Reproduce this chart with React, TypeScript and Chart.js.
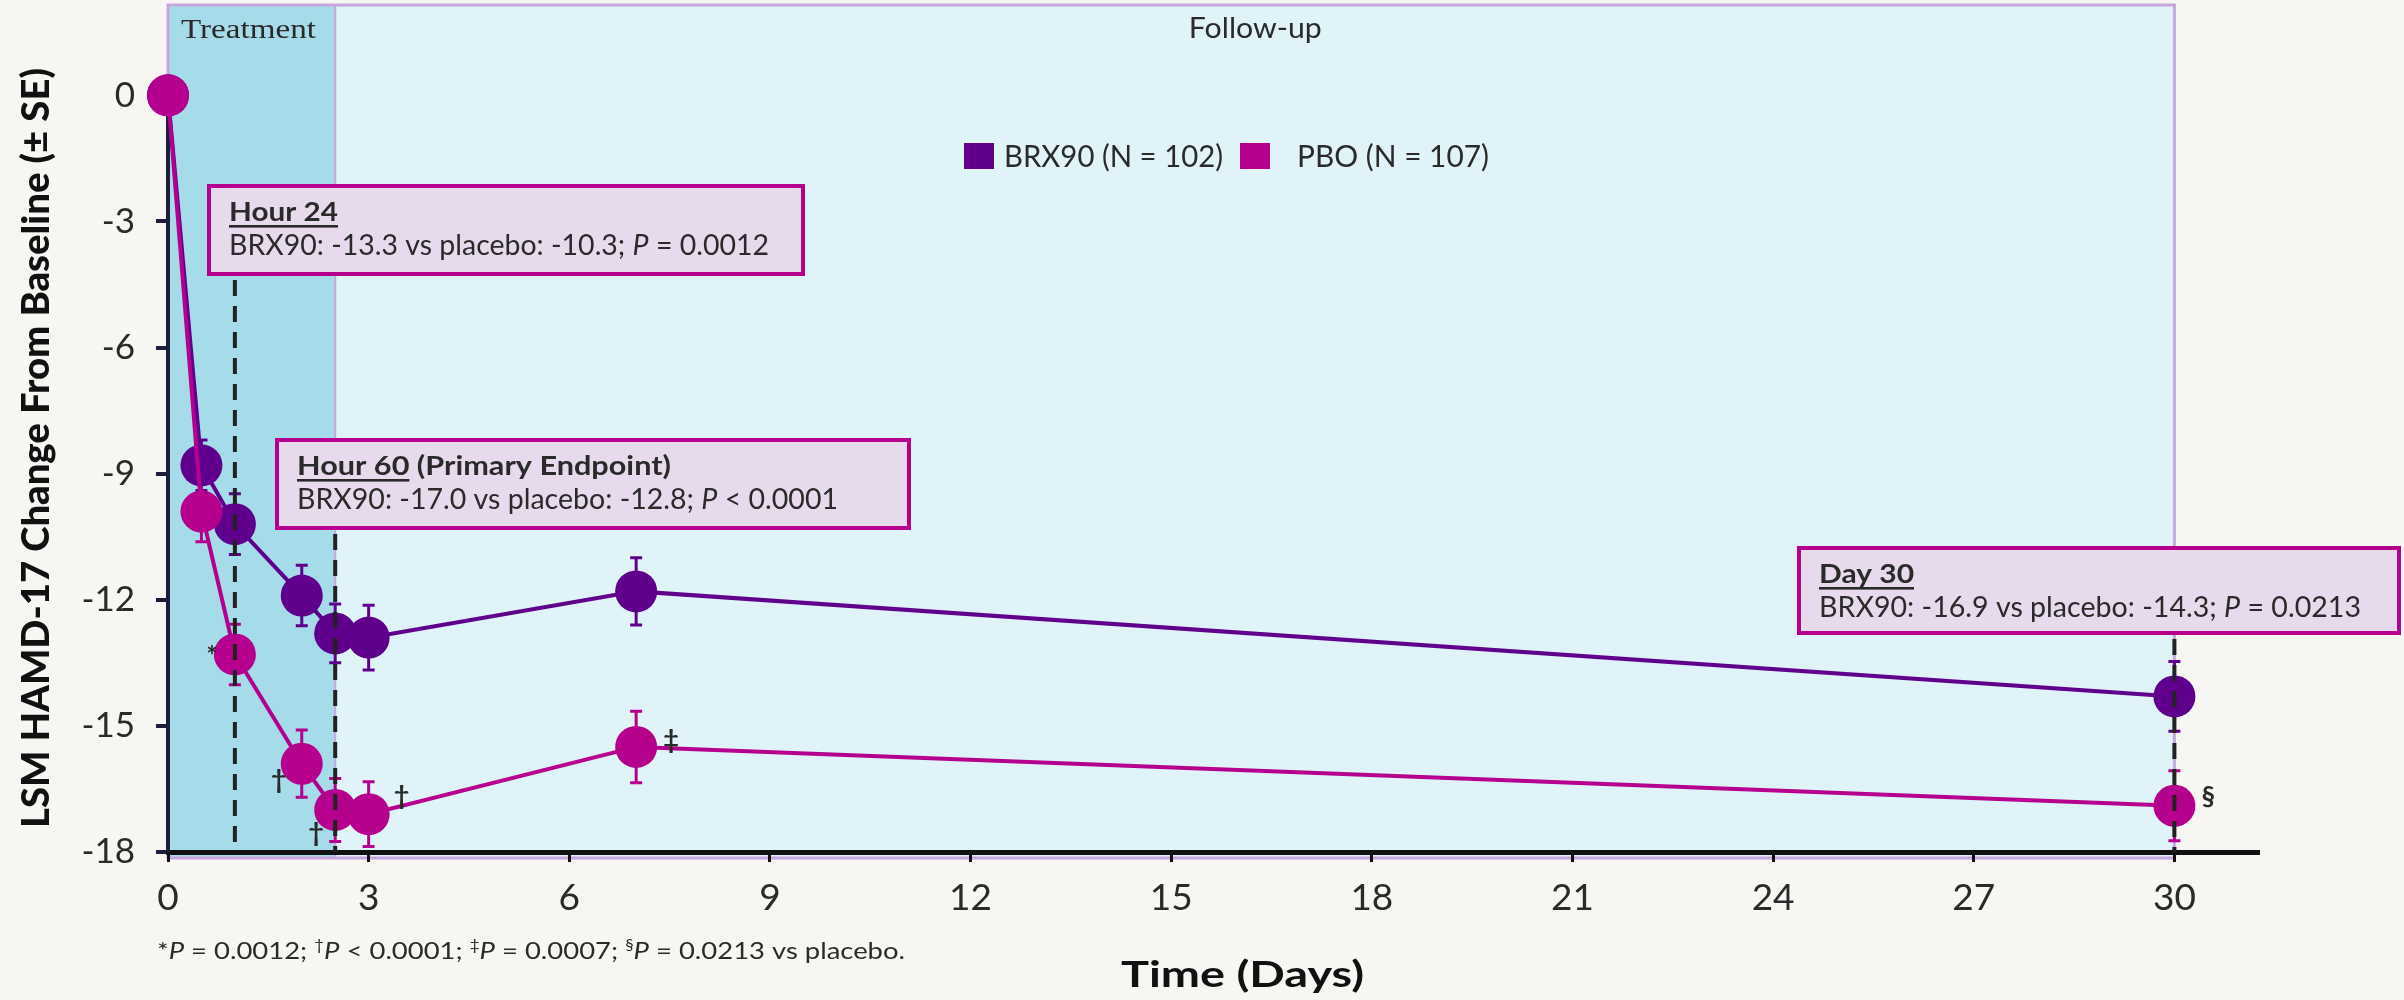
import React, { useEffect, useRef } from "react";
import { Chart, registerables } from "chart.js";

Chart.register(...registerables);

// ---------------- data ----------------
const days = [0, 0.5, 1, 2, 2.5, 3, 7, 30];
const brx90Values = [0, -8.8, -10.2, -11.9, -12.8, -12.9, -11.8, -14.3];
const brx90SE = [0, 0.6, 0.72, 0.72, 0.7, 0.77, 0.8, 0.83];
const pboValues = [0, -9.9, -13.3, -15.9, -17.0, -17.1, -15.5, -16.9];
const pboSE = [0, 0.72, 0.72, 0.8, 0.75, 0.77, 0.85, 0.83];
const pboMarks = ["", "", "*", "†", "†", "†", "‡", "§"];
const xTicks = [0, 3, 6, 9, 12, 15, 18, 21, 24, 27, 30];
const yTicks = [0, -3, -6, -9, -12, -15, -18];
const seriesLabels = ["BRX90 (N = 102)", "PBO (N = 107)"];
const phaseLabels = ["Treatment", "Follow-up"];
const phaseBounds = [0, 2.5, 30];
const calloutDays = [1, 2.5, 30];
const calloutTitles = ["Hour 24", "Hour 60", "Day 30"];
const calloutSubtitles = ["", " (Primary Endpoint)", ""];
const calloutBodies = [
  "BRX90: -13.3 vs placebo: -10.3; ",
  "BRX90: -17.0 vs placebo: -12.8; ",
  "BRX90: -16.9 vs placebo: -14.3; ",
];
const calloutPs = [" = 0.0012", " < 0.0001", " = 0.0213"];
const yTitle = "LSM HAMD-17 Change From Baseline (± SE)";
const xTitle = "Time (Days)";

// ---------------- styles / layout ----------------
const PAGE_BG = "#F8F6F3";
const PURPLE = "#5F008C";
const MAGENTA = "#B4008C";
const TREAT_BG = "#A6DCEA";
const FOLLOW_BG = "#E0F3F9";
const LAVENDER = "#C6A6DC";
const BOX_FILL = "#E8DAED";
const TEXT = "#2a2a2a";
const SANS = "Lato, 'Noto Sans', sans-serif";
const SERIF = "'Liberation Serif', 'DejaVu Serif', serif";

const calloutBoxes = [
  { x: 207, y: 184, w: 598, h: 92, tw: 109, bw: 540 },
  { x: 275, y: 438, w: 636, h: 92, tw: 374, bw: 541 },
  { x: 1797, y: 546, w: 604, h: 89, tw: 95, bw: 542 },
];
const markOffsets = [
  [0, 0],
  [0, 0],
  [-23, 2],
  [-23, 17],
  [-19, 23],
  [33, -18],
  [35, -7],
  [34, -9],
];

type Run = { t: string; w?: string; i?: boolean; sup?: boolean; u?: boolean };

function runFont(r: Run, size: number, fam: string) {
  const s = r.sup ? size * 0.62 : size;
  return `${r.i ? "italic " : ""}${r.w || "400"} ${s}px ${fam}`;
}
function measureRuns(ctx: CanvasRenderingContext2D, runs: Run[], size: number, fam: string) {
  let w = 0;
  for (const r of runs) {
    ctx.font = runFont(r, size, fam);
    w += ctx.measureText(r.t).width;
  }
  return w;
}
function drawRunsAt(
  ctx: CanvasRenderingContext2D,
  runs: Run[],
  x: number,
  y: number,
  size: number,
  fam: string,
  color: string,
  targetW?: number
) {
  const natural = measureRuns(ctx, runs, size, fam);
  let sx = targetW ? targetW / natural : 1;
  sx = Math.max(0.6, Math.min(1.5, sx));
  ctx.save();
  ctx.translate(x, y);
  ctx.scale(sx, 1);
  ctx.fillStyle = color;
  ctx.textAlign = "left";
  ctx.textBaseline = "alphabetic";
  let cx = 0;
  for (const r of runs) {
    ctx.font = runFont(r, size, fam);
    const w = ctx.measureText(r.t).width;
    ctx.fillText(r.t, cx, r.sup ? -size * 0.36 : 0);
    if (r.u) ctx.fillRect(cx, 4, w, 2.6);
    cx += w;
  }
  ctx.restore();
}

const decorPlugin = {
  id: "decor",
  beforeDraw(chart: any) {
    const ctx: CanvasRenderingContext2D = chart.ctx;
    const { top, bottom } = chart.chartArea;
    const xs = chart.scales.x;
    ctx.save();
    ctx.fillStyle = PAGE_BG;
    ctx.fillRect(0, 0, chart.width, chart.height);
    const x0 = xs.getPixelForValue(phaseBounds[0]);
    const x1 = xs.getPixelForValue(phaseBounds[1]);
    const x2 = xs.getPixelForValue(phaseBounds[2]);
    const bb = bottom + 6;
    ctx.fillStyle = TREAT_BG;
    ctx.fillRect(x0, top, x1 - x0, bb - top);
    ctx.fillStyle = FOLLOW_BG;
    ctx.fillRect(x1, top, x2 - x1, bb - top);
    ctx.strokeStyle = LAVENDER;
    ctx.lineWidth = 3;
    ctx.strokeRect(x0, top, x2 - x0, bb - top);
    ctx.lineWidth = 2;
    ctx.beginPath();
    ctx.moveTo(x1, top);
    ctx.lineTo(x1, bb);
    ctx.stroke();
    // phase labels
    drawRunsAt(ctx, [{ t: phaseLabels[0] }], x0 + 13, top + 33, 27, SERIF, TEXT, 135);
    const fc = (x1 + x2) / 2;
    drawRunsAt(ctx, [{ t: phaseLabels[1] }], fc - 66, top + 33, 28, SANS, TEXT, 133);
    // legend
    const colors = [PURPLE, MAGENTA];
    const sqX = [964, 1240];
    const txX = [1004, 1297];
    const txW = [219, 192];
    for (let i = 0; i < 2; i++) {
      ctx.fillStyle = colors[i];
      ctx.fillRect(sqX[i], 143, 30, 26);
      drawRunsAt(ctx, [{ t: seriesLabels[i] }], txX[i], 167, 30, SANS, TEXT, txW[i]);
    }
    ctx.restore();
  },
  beforeDatasetsDraw(chart: any) {
    const ctx: CanvasRenderingContext2D = chart.ctx;
    const xs = chart.scales.x;
    const ys = chart.scales.y;
    ctx.save();
    // y axis line from 0 to -18
    ctx.strokeStyle = "#1c1f3a";
    ctx.lineWidth = 4;
    ctx.beginPath();
    ctx.moveTo(xs.getPixelForValue(0), ys.getPixelForValue(yTicks[0]));
    ctx.lineTo(xs.getPixelForValue(0), chart.chartArea.bottom);
    ctx.stroke();
    // error bars
    const sets = [
      { v: brx90Values, se: brx90SE, c: PURPLE },
      { v: pboValues, se: pboSE, c: MAGENTA },
    ];
    for (const s of sets) {
      ctx.strokeStyle = s.c;
      ctx.lineWidth = 3;
      for (let i = 0; i < days.length; i++) {
        if (!s.se[i]) continue;
        const px = xs.getPixelForValue(days[i]);
        const yt = ys.getPixelForValue(s.v[i] + s.se[i]);
        const yb = ys.getPixelForValue(s.v[i] - s.se[i]);
        ctx.beginPath();
        ctx.moveTo(px, yt);
        ctx.lineTo(px, yb);
        ctx.moveTo(px - 6, yt);
        ctx.lineTo(px + 6, yt);
        ctx.moveTo(px - 6, yb);
        ctx.lineTo(px + 6, yb);
        ctx.stroke();
      }
    }
    ctx.restore();
  },
  afterDatasetsDraw(chart: any) {
    const ctx: CanvasRenderingContext2D = chart.ctx;
    const xs = chart.scales.x;
    const ys = chart.scales.y;
    const { bottom } = chart.chartArea;
    ctx.save();
    // dashed lines
    ctx.strokeStyle = "#222";
    ctx.lineWidth = 4;
    ctx.setLineDash([16, 10]);
    for (let i = 0; i < calloutDays.length; i++) {
      const px = xs.getPixelForValue(calloutDays[i]);
      const b = calloutBoxes[i];
      ctx.beginPath();
      ctx.moveTo(px, b.y + b.h + 4);
      ctx.lineTo(px, bottom);
      ctx.stroke();
    }
    ctx.setLineDash([]);
    // callout boxes
    for (let i = 0; i < calloutBoxes.length; i++) {
      const b = calloutBoxes[i];
      ctx.fillStyle = BOX_FILL;
      ctx.fillRect(b.x, b.y, b.w, b.h);
      ctx.strokeStyle = MAGENTA;
      ctx.lineWidth = 4;
      ctx.strokeRect(b.x + 2, b.y + 2, b.w - 4, b.h - 4);
      const titleRuns: Run[] = [{ t: calloutTitles[i], w: "700", u: true }];
      if (calloutSubtitles[i]) titleRuns.push({ t: calloutSubtitles[i], w: "700" });
      drawRunsAt(ctx, titleRuns, b.x + 22, b.y + 37, 26, SANS, TEXT, b.tw);
      const bodyRuns: Run[] = [
        { t: calloutBodies[i] },
        { t: "P", i: true },
        { t: calloutPs[i] },
      ];
      drawRunsAt(ctx, bodyRuns, b.x + 22, b.y + 71, 28, SANS, TEXT, b.bw);
    }
    // significance marks
    ctx.fillStyle = TEXT;
    ctx.font = `700 27px ${SANS}`;
    ctx.textAlign = "center";
    ctx.textBaseline = "middle";
    for (let i = 0; i < days.length; i++) {
      if (!pboMarks[i]) continue;
      const px = xs.getPixelForValue(days[i]) + markOffsets[i][0];
      const py = ys.getPixelForValue(pboValues[i]) + markOffsets[i][1];
      ctx.fillText(pboMarks[i], px, py);
    }
    ctx.restore();
  },
  afterDraw(chart: any) {
    const ctx: CanvasRenderingContext2D = chart.ctx;
    ctx.save();
    // x title
    drawRunsAt(ctx, [{ t: xTitle, w: "700" }], 1242 - 121, 987, 37, SANS, "#111", 243);
    // y title (rotated)
    ctx.save();
    ctx.translate(49, 448);
    ctx.rotate(-Math.PI / 2);
    drawRunsAt(ctx, [{ t: yTitle, w: "900" }], -380, 0, 37, SANS, "#111", 760);
    ctx.restore();
    // footnote
    const foot: Run[] = [
      { t: "*" },
      { t: "P", i: true },
      { t: " = 0.0012; " },
      { t: "†", sup: true },
      { t: "P", i: true },
      { t: " < 0.0001; " },
      { t: "‡", sup: true },
      { t: "P", i: true },
      { t: " = 0.0007; " },
      { t: "§", sup: true },
      { t: "P", i: true },
      { t: " = 0.0213 vs placebo." },
    ];
    drawRunsAt(ctx, foot, 157, 959, 24, SANS, TEXT, 748);
    ctx.restore();
  },
};

function zeroPadding(s: any) {
  s.paddingTop = 0;
  s.paddingBottom = 0;
  s.paddingLeft = 0;
  s.paddingRight = 0;
}

export default function App() {
  const ref = useRef<HTMLCanvasElement | null>(null);
  useEffect(() => {
    document.body.style.margin = "0";
    const canvas = ref.current;
    if (!canvas) return;
    const chart = new Chart(canvas, {
      type: "line",
      data: {
        datasets: [
          {
            label: seriesLabels[0],
            data: days.map((d, i) => ({ x: d, y: brx90Values[i] })),
            borderColor: PURPLE,
            backgroundColor: PURPLE,
            pointBackgroundColor: PURPLE,
            pointBorderWidth: 0,
            pointRadius: 21,
            pointHoverRadius: 21,
            borderWidth: 4,
            tension: 0,
            clip: false as any,
            order: 2,
          },
          {
            label: seriesLabels[1],
            data: days.map((d, i) => ({ x: d, y: pboValues[i] })),
            borderColor: MAGENTA,
            backgroundColor: MAGENTA,
            pointBackgroundColor: MAGENTA,
            pointBorderWidth: 0,
            pointRadius: 21,
            pointHoverRadius: 21,
            borderWidth: 4,
            tension: 0,
            clip: false as any,
            order: 1,
          },
        ],
      },
      options: {
        animation: false,
        responsive: false,
        devicePixelRatio: 1,
        layout: { autoPadding: false, padding: { top: 5, right: 146, left: 0, bottom: 0 } },
        plugins: { legend: { display: false }, tooltip: { enabled: false } },
        scales: {
          x: {
            type: "linear",
            min: 0,
            max: 31.25,
            afterBuildTicks: (s: any) => {
              s.ticks = xTicks.map((v) => ({ value: v }));
            },
            afterFit: (s: any) => {
              s.height = 148;
              zeroPadding(s);
            },
            grid: {
              display: true,
              drawOnChartArea: false,
              drawTicks: true,
              tickLength: 10,
              color: "#111",
              lineWidth: 3,
            },
            border: { display: true, color: "#111", width: 5 },
            ticks: {
              font: { family: SANS, size: 37 },
              color: TEXT,
              padding: 14,
              maxRotation: 0,
              autoSkip: false,
            },
          },
          y: {
            type: "linear",
            min: -18,
            max: 2.15,
            afterBuildTicks: (s: any) => {
              s.ticks = yTicks.map((v) => ({ value: v }));
            },
            afterFit: (s: any) => {
              s.width = 168;
              zeroPadding(s);
            },
            grid: {
              display: true,
              drawOnChartArea: false,
              drawTicks: true,
              tickLength: 12,
              color: "#1c1f3a",
              lineWidth: 4,
            },
            border: { display: false },
            ticks: {
              font: { family: SANS, size: 35 },
              color: TEXT,
              padding: 21,
              autoSkip: false,
            },
          },
        },
      },
      plugins: [decorPlugin],
    } as any);
    return () => chart.destroy();
  }, []);
  return (
    <div style={{ width: 2404, height: 1000, background: PAGE_BG, position: "relative" }}>
      <canvas ref={ref} width={2404} height={1000} style={{ display: "block", width: 2404, height: 1000 }} />
    </div>
  );
}
